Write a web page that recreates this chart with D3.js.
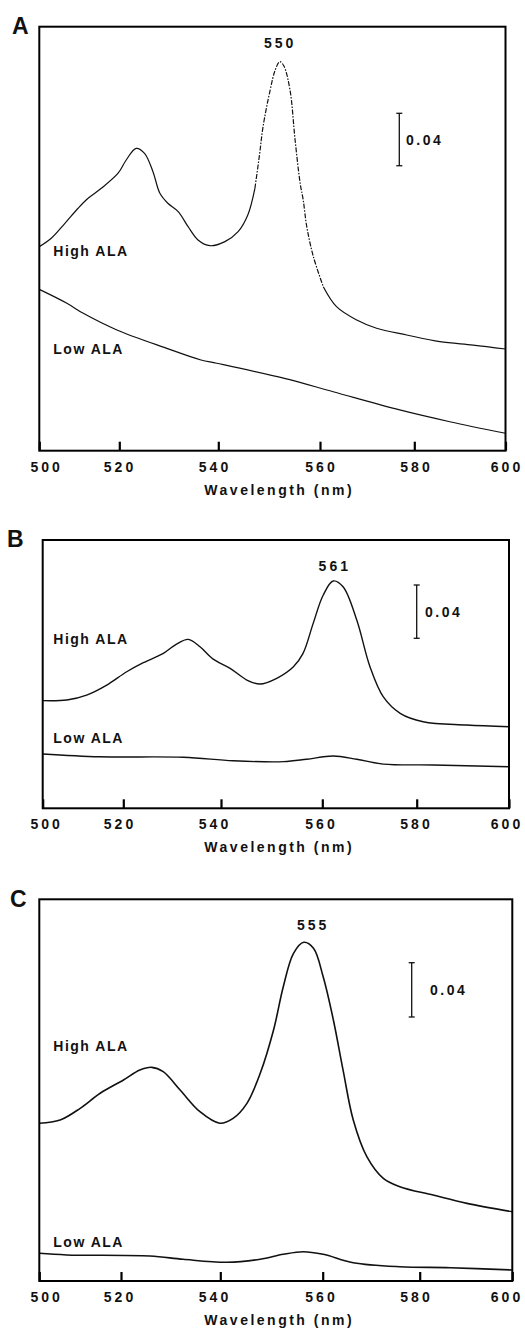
<!DOCTYPE html>
<html>
<head>
<meta charset="utf-8">
<script src="https://cdn.jsdelivr.net/npm/d3@7"></script>
<style>
  body { margin: 0; background: #fff; }
  svg { display: block; }
  text { font-family: 'Liberation Sans', Arial, sans-serif; font-weight: bold; fill: #111; }
</style>
</head>
<body>
<svg id="chart"></svg>
<script>
// wavelength ticks shared by the three panels
const tickNm = [500, 520, 540, 560, 580, 600]

// [wavelength nm, absorbance]
const highA = [
  [500, 0.1557], [503.0, 0.1621], [506.4, 0.1735], [509.7, 0.1850], [512.2, 0.1926],
  [515.5, 0.2002], [519.7, 0.2117], [521.4, 0.2218], [523.4, 0.2307], [525.1, 0.2269],
  [526.8, 0.2129], [528.2, 0.1964], [529.8, 0.1888], [531.9, 0.1824], [533.9, 0.1709],
  [535.9, 0.1608], [538.3, 0.1564], [541.3, 0.1595], [543.9, 0.1671], [545.8, 0.1798],
  [547.2, 0.2002], [548.1, 0.2256], [548.8, 0.2472], [550.2, 0.2752], [551.2, 0.2905],
  [552.1, 0.2968], [552.9, 0.2935], [554.1, 0.2752], [555.1, 0.2371], [556.1, 0.2040],
  [556.7, 0.1913], [557.4, 0.1709], [558.7, 0.1480], [560.7, 0.1251], [563.5, 0.1099],
  [567.8, 0.0997], [572.0, 0.0934], [578.4, 0.0883], [585.6, 0.0832], [592.9, 0.0806],
  [600, 0.0776]
]
const lowA = [
  [500, 0.1231], [506.9, 0.1125], [511.0, 0.1048], [519.4, 0.0921], [529.6, 0.0781],
  [536.5, 0.0692], [539.7, 0.0667], [553.0, 0.0552], [562.8, 0.0450], [576.9, 0.0311],
  [587.8, 0.0221], [600, 0.0133]
]
const highB = [
  [500, 0.0808], [506.0, 0.0813], [510.9, 0.0850], [515.9, 0.0925], [520.7, 0.1025],
  [524.1, 0.1093], [528.2, 0.1163], [530.9, 0.1233], [533.3, 0.1268], [535.7, 0.1213],
  [538.4, 0.1120], [541.8, 0.1051], [545.1, 0.0963], [547.7, 0.0933], [551.0, 0.0976],
  [554.3, 0.1063], [556.2, 0.1163], [558.2, 0.1388], [560.2, 0.1601], [562.3, 0.1706],
  [564.4, 0.1663], [567.3, 0.1413], [570.1, 0.1063], [572.9, 0.0838], [576.5, 0.0713],
  [581.4, 0.0650], [590.8, 0.0625], [600, 0.0612]
]
const lowB = [
  [500, 0.0408], [514.2, 0.0387], [532.3, 0.0383], [542.4, 0.0357], [552.3, 0.0350],
  [556.9, 0.0368], [562.3, 0.0393], [567.3, 0.0368], [572.9, 0.0332], [583.6, 0.0325],
  [600, 0.0312]
]
const highC = [
  [500, 0.1162], [505.1, 0.1186], [510.0, 0.1272], [514.9, 0.1383], [520.5, 0.1481],
  [523.8, 0.1554], [526.2, 0.1574], [528.5, 0.1542], [531.9, 0.1407], [535.9, 0.1247],
  [539.9, 0.1162], [542.5, 0.1198], [545.2, 0.1309], [547.8, 0.1530], [550.4, 0.1849],
  [552.3, 0.2168], [554.3, 0.2414], [556.3, 0.2495], [558.2, 0.2451], [560.1, 0.2241],
  [562.2, 0.1923], [564.2, 0.1554], [566.3, 0.1186], [569.1, 0.0916], [572.5, 0.0756],
  [575.9, 0.0695], [582.9, 0.0633], [590.2, 0.0572], [600, 0.0510]
]
const lowC = [
  [500, 0.0204], [506.7, 0.0192], [525.8, 0.0184], [532.5, 0.0160], [541.3, 0.0138],
  [547.8, 0.0160], [552.3, 0.0197], [556.2, 0.0216], [560.1, 0.0197], [566.3, 0.0135],
  [575.9, 0.0105], [586.6, 0.0098], [600, 0.0081]
]

const width = 525
const height = 1331

// tick labels were pasted at the same spots in every panel
const labelX = [44.7, 118, 213, 319.5, 414.5, 505]

// layout of each panel (the scan is slightly uneven, so ticks get their own pixel spots)
const panels = [
  {
    letter: 'A', letterX: 12, letterY: 34,
    top: 26.7, bottom: 450.7, tickX: [39.3, 119.3, 218.3, 320, 414.3, 505.5],
    yMax: 0.3235, high: highA, low: lowA, dash: [547.2, 560.7], lineWidth: 1.2,
    peak: '550', peakX: 278.7, peakY: 43.3,
    barX: 399.3, barTop: 113.3, barLabelX: 406,
    highY: 251, lowY: 349
  },
  {
    letter: 'B', letterX: 7, letterY: 546.5,
    top: 540, bottom: 808.3, tickX: [42.7, 123.3, 221, 322.3, 416.7, 509],
    yMax: 0.2014, high: highB, low: lowB, dash: null, lineWidth: 1.4,
    peak: '561', peakX: 333.3, peakY: 566,
    barX: 416.7, barTop: 585, barLabelX: 425,
    highY: 639.3, lowY: 737.7
  },
  {
    letter: 'C', letterX: 10, letterY: 907.3,
    top: 899.3, bottom: 1281, tickX: [39.3, 121, 220.3, 322.7, 419.7, 512.3],
    yMax: 0.2812, high: highC, low: lowC, dash: null, lineWidth: 1.6,
    peak: '555', peakX: 311.7, peakY: 925,
    barX: 411.7, barTop: 962.7, barLabelX: 430,
    highY: 1045.7, lowY: 1242.3
  }
]

const svg = d3.select('#chart')
  .attr('width', width)
  .attr('height', height)

panels.forEach(p => {
  const g = svg.append('g').attr('class', 'panel')
  const left = p.tickX[0]
  const right = p.tickX[p.tickX.length - 1]

  const x = d3.scaleLinear().domain(tickNm).range(p.tickX)
  const y = d3.scaleLinear().domain([0, p.yMax]).range([p.bottom, p.top])
  const xLabel = d3.scaleLinear().domain(tickNm).range(labelX)

  const line = d3.line()
    .x(d => x(d[0]))
    .y(d => y(d[1]))
    .curve(d3.curveCatmullRom.alpha(0.5))

  // spectra
  const drawLine = (pts, dashed) => {
    g.append('path')
      .datum(pts)
      .attr('d', line)
      .attr('fill', 'none')
      .attr('stroke', '#111')
      .attr('stroke-width', p.lineWidth)
      .attr('stroke-dasharray', dashed ? '5,1.5,1.5,1.5' : null)
  }

  if (p.dash) {
    const [d0, d1] = p.dash
    drawLine(p.high.filter(d => d[0] <= d0), false)
    drawLine(p.high.filter(d => d[0] >= d0 && d[0] <= d1), true)
    drawLine(p.high.filter(d => d[0] >= d1), false)
  } else {
    drawLine(p.high, false)
  }
  drawLine(p.low, false)

  // frame
  g.append('rect')
    .attr('x', left)
    .attr('y', p.top)
    .attr('width', right - left)
    .attr('height', p.bottom - p.top)
    .attr('fill', 'none')
    .attr('stroke', '#000')
    .attr('stroke-width', 2)

  // inward tick marks
  const ticks = g.append('g')
    .attr('transform', `translate(0,${p.bottom})`)
    .call(d3.axisBottom(x).tickValues(tickNm).tickSize(-9).tickFormat(''))
  ticks.select('.domain').remove()
  ticks.selectAll('line').attr('stroke', '#000').attr('stroke-width', 2.2)

  // tick labels
  const labels = g.append('g')
    .attr('transform', `translate(0,${p.bottom})`)
    .call(d3.axisBottom(xLabel).tickValues(tickNm).tickSize(0).tickPadding(11))
  labels.select('.domain').remove()
  labels.selectAll('text')
    .attr('fill', '#111')
    .attr('dx', 1.5)
    .style('font-size', '14px')
    .style('font-family', "'Liberation Sans', Arial, sans-serif")
    .style('font-weight', 'bold')
    .style('letter-spacing', '3px')

  // axis title
  g.append('text')
    .attr('x', 278 + 1.25)
    .attr('y', p.bottom + 44)
    .attr('text-anchor', 'middle')
    .attr('font-size', '14px')
    .style('letter-spacing', '2.5px')
    .text('Wavelength (nm)')

  // panel letter
  g.append('text')
    .attr('x', p.letterX)
    .attr('y', p.letterY)
    .attr('font-size', '23px')
    .style('font-weight', '900')
    .text(p.letter)

  // peak label
  g.append('text')
    .attr('x', p.peakX + 1.5)
    .attr('y', p.peakY)
    .attr('dy', '0.36em')
    .attr('text-anchor', 'middle')
    .attr('font-size', '14px')
    .style('letter-spacing', '3px')
    .text(p.peak)

  // 0.04 absorbance scale bar
  const barLen = y(0) - y(0.04)
  const bar = g.append('g').attr('stroke', '#111').attr('stroke-width', 1.3)
  bar.append('line')
    .attr('x1', p.barX).attr('x2', p.barX)
    .attr('y1', p.barTop).attr('y2', p.barTop + barLen)
  ;[p.barTop, p.barTop + barLen].forEach(yy => {
    bar.append('line')
      .attr('x1', p.barX - 3).attr('x2', p.barX + 3)
      .attr('y1', yy).attr('y2', yy)
  })
  g.append('text')
    .attr('x', p.barLabelX)
    .attr('y', p.barTop + barLen / 2)
    .attr('dy', '0.36em')
    .attr('font-size', '14px')
    .style('letter-spacing', '2.5px')
    .text('0.04')

  // series labels
  g.append('text')
    .attr('x', 53.3)
    .attr('y', p.highY)
    .attr('dy', '0.36em')
    .attr('font-size', '14px')
    .style('letter-spacing', '1.5px')
    .text('High ALA')
  g.append('text')
    .attr('x', 53.3)
    .attr('y', p.lowY)
    .attr('dy', '0.36em')
    .attr('font-size', '14px')
    .style('letter-spacing', '1.5px')
    .text('Low ALA')
})
</script>
</body>
</html>
